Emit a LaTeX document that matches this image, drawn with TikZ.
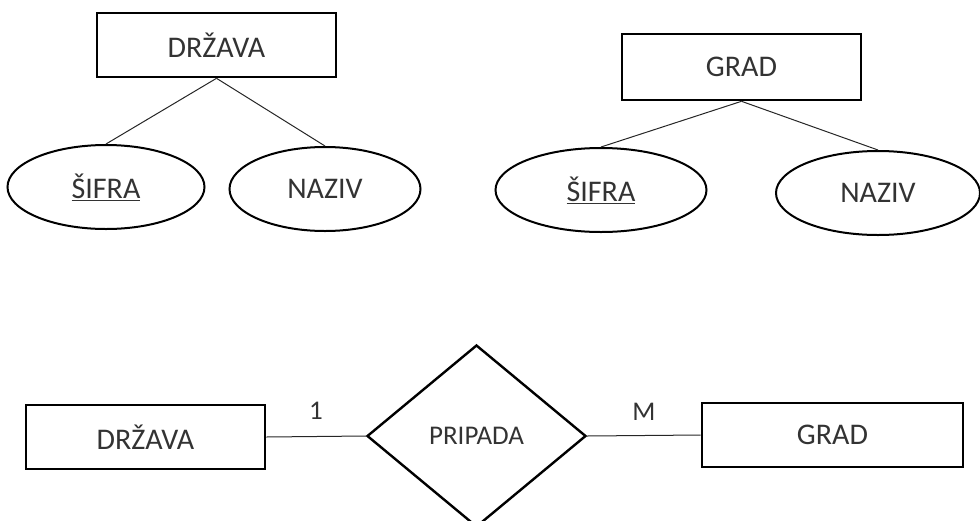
\documentclass[tikz,border=0pt]{standalone}
\usepackage{fontspec}
\setmainfont{Carlito}
\usepackage{tikz}
\usetikzlibrary{shapes.geometric}

\begin{document}
\begin{tikzpicture}[
  x=1pt, y=-1pt,
  every node/.style={font=\fontsize{30}{34}\selectfont, text=black!80},
  entity/.style={draw=black,line width=2.6pt,minimum width=239pt,minimum height=64pt,inner sep=0pt},
  attr/.style={draw=black,ellipse,line width=2pt,minimum height=84pt,inner sep=0pt},
  rel/.style={draw=black,diamond,line width=2.4pt,minimum width=219pt,minimum height=182pt,inner sep=0pt,font=\fontsize{27}{30}\selectfont},
  link/.style={line width=1pt,black!85},
  card/.style={font=\fontsize{27}{30}\selectfont}
]
\useasboundingbox (0,0) rectangle (980,520);
% drzava sa atributima
\node[entity] (drz) at (216.5,45) {DRŽAVA};
\node[attr,minimum width=197pt] (drzsif) at (106,187) {\underline{ŠIFRA}};
\node[attr,minimum width=191pt] (drznaz) at (325,189) {NAZIV};
\draw[link] (drz.south) -- (drzsif.north);
\draw[link] (drz.south) -- (drznaz.north);
% grad sa atributima
\node[entity,minimum height=66pt] (grd) at (741.5,67) {GRAD};
\node[attr,minimum width=211pt] (grdsif) at (601,190) {\underline{ŠIFRA}};
\node[attr,minimum width=204pt] (grdnaz) at (878,193) {NAZIV};
\draw[link] (grd.south) -- (grdsif.north);
\draw[link] (grd.south) -- (grdnaz.north);
% veza pripada
\node[entity] (drz2) at (145.5,437) {DRŽAVA};
\node[rel] (prip) at (476.5,436) {PRIPADA};
\node[entity,minimum width=261pt] (grd2) at (832.5,435) {GRAD};
\draw[link] (drz2.east) -- node[card,above=13pt] (c1) {1} (prip.west);
\draw[link] (prip.east) -- node[card,above=11pt] (cm) {M} (grd2.west);
\end{tikzpicture}
\end{document}
